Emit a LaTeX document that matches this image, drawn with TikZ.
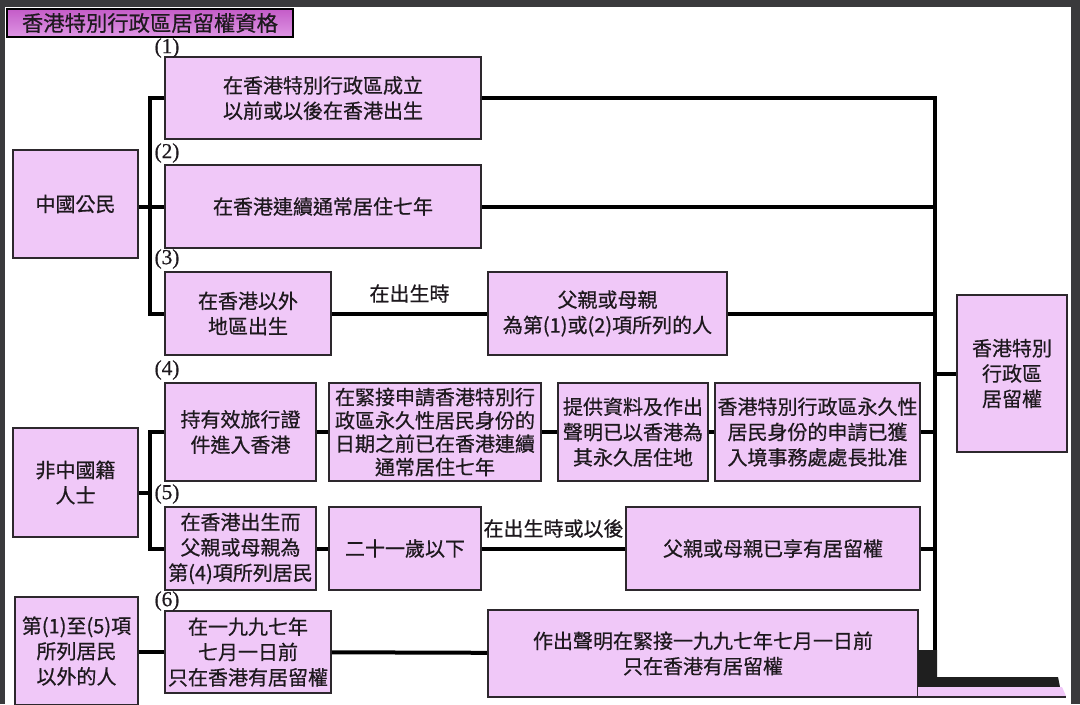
\documentclass[tikz,border=0pt]{standalone}
\usepackage{fontspec}
\setmainfont{Noto Sans CJK TC}[FakeBold=0.6]
\newfontfamily\numfont{Liberation Serif}[FakeBold=0.6]

\definecolor{boxpink}{RGB}{240,200,248}
\definecolor{boxline}{RGB}{45,40,45}
\definecolor{framegray}{RGB}{58,58,60}
\definecolor{titletop}{RGB}{196,92,200}
\definecolor{titlebot}{RGB}{222,150,228}
\definecolor{ink}{RGB}{30,25,30}

\begin{document}
\begin{tikzpicture}[
		x=0.75pt, y=-0.75pt,
		wh/.style 2 args={minimum width=#1*0.75pt, minimum height=#2*0.75pt},
		box/.style={rectangle, draw=boxline, line width=1.2pt, fill=boxpink, inner sep=0pt, align=center, text=ink, font=\fontsize{15}{19}\selectfont},
		titlebox/.style={rectangle, draw=black, line width=1.5pt, top color=titletop, bottom color=titlebot, inner sep=0pt, text=ink, font=\fontsize{16}{18}\selectfont},
		link/.style={line width=3pt, black},
		cond/.style={text=ink, font=\fontsize{15}{19}\selectfont},
		num/.style={text=ink, font=\numfont\fontsize{16}{18}\selectfont}
		]
		
		\useasboundingbox (0,0) rectangle (1080,704);
		\fill[white] (0,0) rectangle (1080,704);
		\fill[framegray] (0,0) rectangle (1080,7);
		\fill[framegray] (0,0) rectangle (5,704);
		\fill[framegray] (1071,0) rectangle (1080,704);
		
		\node[titlebox, wh={286}{28}] (title) at (150,23) {香港特別行政區居留權資格};
		
		\node[box, wh={125}{108}] (cn) at (75.5,204) {中國公民};
		\node[box, wh={316}{82}] (b1) at (323,98) {在香港特別行政區成立\\以前或以後在香港出生};
		\node[box, wh={316}{83}] (b2) at (323,206.5) {在香港連續通常居住七年};
		\node[box, wh={166}{83}] (b3) at (248,313.5) {在香港以外\\地區出生};
		\node[box, wh={239}{83}] (b3p) at (607.5,313.5) {父親或母親\\為第(1)或(2)項所列的人};
		
		\node[box, wh={125}{109}] (nc) at (75.5,482.5) {非中國籍\\人士};
		\node[box, wh={151}{98}] (b4a) at (240.5,432) {持有效旅行證\\件進入香港};
		\node[box, wh={212}{98}, font=\fontsize{15}{17.5}\selectfont] (b4b) at (435,432) {在緊接申請香港特別行\\政區永久性居民身份的\\日期之前已在香港連續\\通常居住七年};
		\node[box, wh={150}{98}] (b4c) at (633,432) {提供資料及作出\\聲明已以香港為\\其永久居住地};
		\node[box, wh={205}{98}] (b4d) at (817.5,432) {香港特別行政區永久性\\居民身份的申請已獲\\入境事務處處長批准};
		\node[box, wh={151}{83}] (b5a) at (240.5,548.5) {在香港出生而\\父親或母親為\\第(4)項所列居民};
		\node[box, wh={152}{83}] (b5b) at (405,548.5) {二十一歲以下};
		\node[box, wh={294}{83}] (b5c) at (773,548.5) {父親或母親已享有居留權};
		
		\node[box, wh={123}{108}] (oth) at (76.5,651) {第(1)至(5)項\\所列居民\\以外的人};
		\node[box, wh={166}{82}] (b6a) at (248,652) {在一九九七年\\七月一日前\\只在香港有居留權};
		\node[box, wh={430}{87}] (b6b) at (703,653.5) {作出聲明在緊接一九九七年七月一日前\\只在香港有居留權};
		
		\node[box, wh={110}{157}] (hk) at (1012,373.5) {香港特別\\行政區\\居留權};
		
		\node[num] (n1) at (167,48) {(1)};
		\node[num] (n2) at (167,153) {(2)};
		\node[num] (n3) at (167,259) {(3)};
		\node[num] (n4) at (167,370) {(4)};
		\node[num] (n5) at (167,494) {(5)};
		\node[num] (n6) at (167,601) {(6)};
		
		\coordinate (rbot) at (935,677);
		\coordinate (nj) at (151,493);
		
		\draw[link] (cn.east |- b2) -- (b2.west);
		\draw[link] (b1.west) -- ++(-14,0) |- (b3.west);
		\draw[link] (b3) -- node[cond, midway, yshift=15pt] {在出生時} (b3p);
		
		\draw[link] (nc.east |- nj) -- (nj);
		\draw[link] (b4a.west) -- ++(-14,0) |- (b5a.west);
		\draw[link] (b4a) -- (b4b);
		\draw[link] (b4b) -- (b4c);
		\draw[link] (b4c) -- (b4d);
		\draw[link] (b5a) -- (b5b);
		\draw[link] (b5b) -- node[cond, midway, yshift=15pt] {在出生時或以後} (b5c);
		
		\draw[link] (oth.east |- b6a) -- (b6a.west);
		\draw[link] (b6a) -- (b6b);
		
		\draw[link] (b1.east) -| (rbot);
		\draw[link] (b2.east) -- (b2.east -| rbot);
		\draw[link] (b3p.east) -- (b3p.east -| rbot);
		\draw[link] (b4d.east) -- (b4d.east -| rbot);
		\draw[link] (b5c.east) -- (b5c.east -| rbot);
		\draw[link] (hk.west) -- (hk.west -| rbot);
		
		\fill[black!88] (918,650) -- (937,650) -- (937,677) -- (1058,677) -- (1060,687) -- (918,687) -- cycle;
		\fill[boxpink] (918,687) -- (1062,687) -- (1066,696) -- (918,696) -- cycle;
		\draw[boxline, line width=1.2pt] (918,697) -- (1066,697);
		
	\end{tikzpicture}
\end{document}
